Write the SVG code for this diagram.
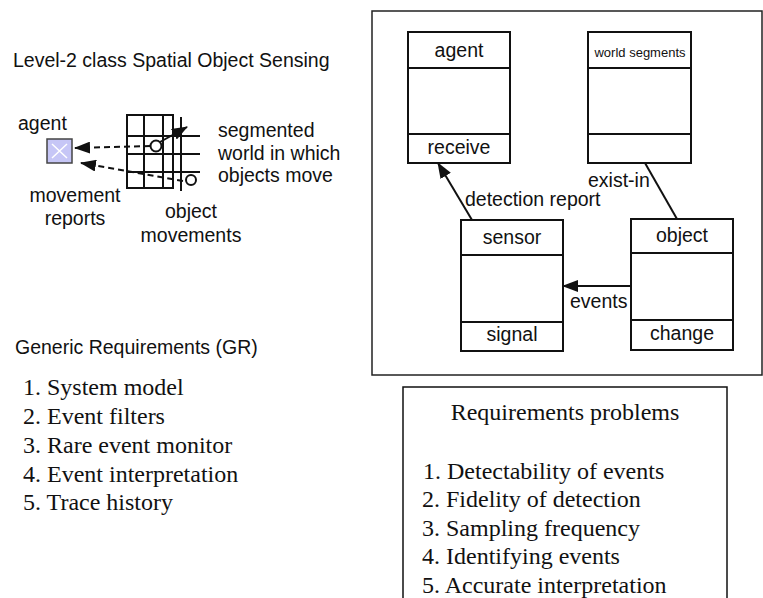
<svg xmlns="http://www.w3.org/2000/svg" width="763" height="598" viewBox="0 0 763 598">
<style>
.s{font-family:"Liberation Sans",Arial,sans-serif;font-size:19.5px;fill:#111}
.c{text-anchor:middle}
.t{font-family:"Liberation Serif","Times New Roman",serif;font-size:24px;fill:#111}
.box{fill:#fff;stroke:#111;stroke-width:2}
.ln{stroke:#111;stroke-width:2;fill:none}
.ds{stroke:#111;stroke-width:2;fill:none;stroke-dasharray:6 4}
.frame{fill:none;stroke:#222;stroke-width:1.5}
</style>
<defs>
<marker id="ah" viewBox="0 0 16 12" refX="15" refY="6" markerWidth="16" markerHeight="12" markerUnits="userSpaceOnUse" orient="auto">
<path d="M0,0 L16,6 L0,12 z" fill="#111"/>
</marker>
</defs>
<rect width="763" height="598" fill="#fff"/>

<g id="legend">
<text class="s" x="13" y="67">Level-2 class Spatial Object Sensing</text>
<text class="s" x="18" y="130">agent</text>
<rect x="47" y="139" width="25" height="24" fill="#c6c6f6" stroke="#444" stroke-width="1.5"/>
<path d="M52,144 L67,158 M67,144 L52,158" stroke="#fff" stroke-width="1.5"/>
<g id="grid">
<rect x="127" y="115" width="46" height="73" stroke-width="2" fill="none" stroke="#111"/>
<path d="M144,115 V188 M163,115 V188 M127,136 H200 M127,154 H200 M127,172 H200 M181,117 V191" stroke="#111" stroke-width="2" fill="none"/>
</g>
<circle cx="156" cy="146" r="5.5" fill="#fff" stroke="#111" stroke-width="2"/>
<circle cx="191" cy="180" r="5" fill="#fff" stroke="#111" stroke-width="2"/>
<text class="s" x="218" y="137">segmented</text>
<text class="s" x="218" y="160">world in which</text>
<text class="s" x="218" y="182">objects move</text>
<text class="s c" x="75" y="202">movement</text>
<text class="s c" x="75" y="225">reports</text>
<text class="s c" x="191" y="218">object</text>
<text class="s c" x="191" y="242">movements</text>
</g>

<g id="legend-connectors">
<line class="ds" x1="150" y1="146" x2="75" y2="148" marker-end="url(#ah)"/>
<line class="ds" x1="183" y1="181" x2="81" y2="163" marker-end="url(#ah)"/>
<line class="ln" x1="160" y1="142" x2="187" y2="127" marker-end="url(#ah)"/>
</g>

<g id="gr">
<text class="s" x="15" y="354">Generic Requirements (GR)</text>
<text class="t" x="23" y="395">1. System model</text>
<text class="t" x="23" y="424">2. Event filters</text>
<text class="t" x="23" y="453">3. Rare event monitor</text>
<text class="t" x="23" y="482">4. Event interpretation</text>
<text class="t" x="23" y="510">5. Trace history</text>
</g>

<rect class="frame" x="372" y="11" width="390" height="364"/>

<g id="agent">
<rect class="box" x="408" y="32" width="102" height="131"/>
<path class="ln" d="M408,68 H510 M408,134 H510"/>
<text class="s c" x="459" y="57">agent</text>
<text class="s c" x="459" y="154">receive</text>
</g>
<g id="world-segments">
<rect class="box" x="588" y="32" width="103" height="131"/>
<path class="ln" d="M588,68 H691 M588,134 H691"/>
<text class="s c" x="640" y="57" style="font-size:13px">world segments</text>
</g>
<g id="sensor">
<rect class="box" x="461" y="220" width="102" height="131"/>
<path class="ln" d="M461,255 H563 M461,322 H563"/>
<text class="s c" x="512" y="244">sensor</text>
<text class="s c" x="512" y="341">signal</text>
</g>
<g id="object">
<rect class="box" x="631" y="219" width="102" height="131"/>
<path class="ln" d="M631,253 H733 M631,320 H733"/>
<text class="s c" x="682" y="242">object</text>
<text class="s c" x="682" y="340">change</text>
</g>

<g id="connectors">
<line class="ln" x1="472" y1="220" x2="438" y2="163" marker-end="url(#ah)"/>
<text class="s" x="465" y="206">detection report</text>
<line class="ln" x1="645" y1="163" x2="677" y2="219"/>
<text class="s" x="588" y="187">exist-in</text>
<line class="ln" x1="631" y1="286" x2="563" y2="286" marker-end="url(#ah)"/>
<text class="s" x="570" y="308">events</text>
</g>

<g id="problems">
<rect x="403" y="387" width="324" height="220" fill="none" stroke="#111" stroke-width="1.5"/>
<text class="t c" x="565" y="420">Requirements problems</text>
<text class="t" x="423" y="479">1. Detectability of events</text>
<text class="t" x="422" y="507">2. Fidelity of detection</text>
<text class="t" x="422" y="536">3. Sampling frequency</text>
<text class="t" x="422" y="564">4. Identifying events</text>
<text class="t" x="422" y="593">5. Accurate interpretation</text>
</g>
</svg>
